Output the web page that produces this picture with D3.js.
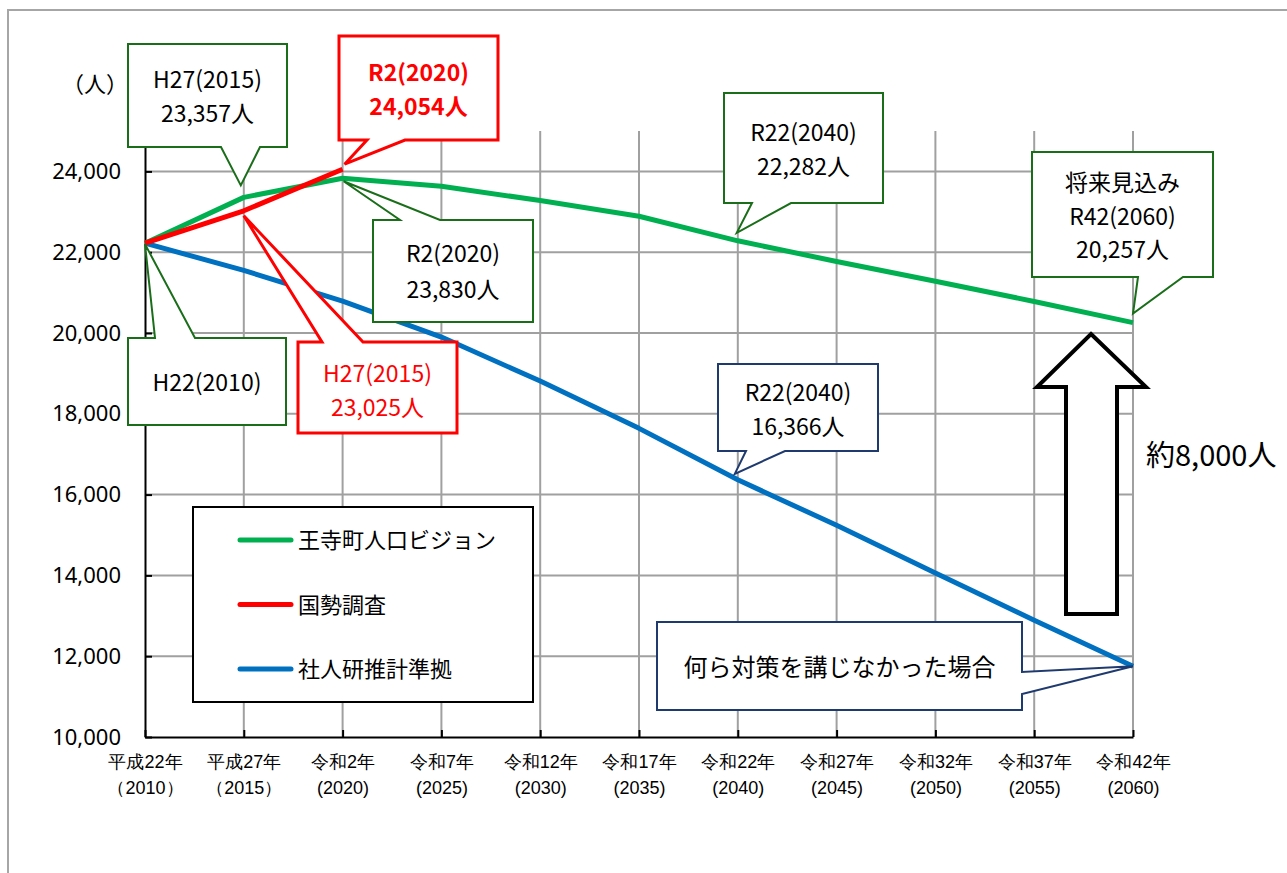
<!DOCTYPE html>
<html><head><meta charset="utf-8">
<script src="https://cdn.jsdelivr.net/npm/d3@7"></script>
<style>
html,body{margin:0;padding:0;background:#fff;}
svg{display:block;font-family:"Noto Sans CJK JP","Noto Sans",sans-serif;}
</style></head>
<body>
<svg id="chart" width="1287" height="873"></svg>
<script>
// ---- data ----
const years = [2010,2015,2020,2025,2030,2035,2040,2045,2050,2055,2060];
const xLabelEra = ["平成22年","平成27年","令和2年","令和7年","令和12年","令和17年","令和22年","令和27年","令和32年","令和37年","令和42年"];
const xLabelYear = ["（2010）","（2015）","(2020)","(2025)","(2030)","(2035)","(2040)","(2045)","(2050)","(2055)","(2060)"];
const yTicks = [10000,12000,14000,16000,18000,20000,22000,24000];
const visionValues = [22224,23357,23830,23630,23280,22890,22282,21770,21280,20780,20257];
const censusYears = [2010,2015,2020];
const censusValues = [22224,23025,24054];
const ipssValues = [22224,21550,20790,19900,18810,17640,16366,15240,14060,12890,11750];
const seriesNames = ["王寺町人口ビジョン","国勢調査","社人研推計準拠"];
const seriesColors = ["#00B050","#FF0000","#0070C0"];

const svg = d3.select("#chart");
// outer frame
svg.append("rect").attr("x",8).attr("y",10).attr("width",1300).attr("height",900)
  .attr("fill","#fff").attr("stroke","#a6a6a6").attr("stroke-width",2);

const x = d3.scaleLinear().domain([2010,2060]).range([145,1133]);
const y = d3.scaleLinear().domain([10000,25000]).range([737,131]);

// grid
const grid = svg.append("g");
grid.selectAll("line.v").data(years.slice(1)).join("line")
  .attr("x1",d=>x(d)).attr("x2",d=>x(d)).attr("y1",y(10000)).attr("y2",y(25000))
  .attr("stroke","#a0a0a0").attr("stroke-width",2);
grid.selectAll("line.h").data(yTicks.slice(1)).join("line")
  .attr("x1",x(2010)).attr("x2",x(2060)).attr("y1",d=>y(d)).attr("y2",d=>y(d))
  .attr("stroke","#a0a0a0").attr("stroke-width",2);

// axes
const yAxis = svg.append("g").attr("transform",`translate(${x(2010)},0)`)
  .call(d3.axisLeft(y).tickValues(yTicks).tickSizeInner(-7).tickSizeOuter(0).tickPadding(24)
    .tickFormat(d3.format(",")));
yAxis.select(".domain").attr("stroke","#000").attr("stroke-width",2);
yAxis.selectAll(".tick line").attr("stroke","#000").attr("stroke-width",2);
yAxis.selectAll(".tick text").attr("font-size",22).attr("fill","#000")
  .attr("font-family","'Noto Sans','Noto Sans CJK JP',sans-serif");

const xAxis = svg.append("g").attr("transform",`translate(0,${y(10000)})`)
  .call(d3.axisBottom(x).tickValues(years).tickSizeInner(-7).tickSizeOuter(0).tickPadding(14)
    .tickFormat(""));
xAxis.select(".domain").attr("stroke","#000").attr("stroke-width",2);
xAxis.selectAll(".tick line").attr("stroke","#000").attr("stroke-width",2);
xAxis.selectAll(".tick text").each(function(d,i){
  const t = d3.select(this).attr("font-size",18).attr("fill","#000").attr("dy",null).attr("y",null);
  t.append("tspan").attr("x",0).attr("y",31).text(xLabelEra[i]);
  t.append("tspan").attr("x",0).attr("y",57).text(xLabelYear[i]);
});

svg.append("text").attr("x",95).attr("y",92).attr("text-anchor","middle")
  .attr("font-size",22).text("（人）");

// series
const line = d3.line().x(d=>x(d[0])).y(d=>y(d[1]));
const visionPts = years.map((yr,i)=>[yr,visionValues[i]]);
const censusPts = censusYears.map((yr,i)=>[yr,censusValues[i]]);
const ipssPts = years.map((yr,i)=>[yr,ipssValues[i]]);
const lines = svg.append("g").attr("fill","none").attr("stroke-width",5).attr("stroke-linejoin","round");
lines.append("path").attr("d",line(ipssPts)).attr("stroke",seriesColors[2]);
lines.append("path").attr("d",line(visionPts)).attr("stroke",seriesColors[0]);
lines.append("path").attr("d",line(censusPts)).attr("stroke",seriesColors[1]);

// callouts
function calloutPath(b, side, base, tip){
  const [x0,y0,x1,y1] = b;
  if(side==="bottom") return `M${x0},${y0}L${x1},${y0}L${x1},${y1}L${base[1]},${y1}L${tip[0]},${tip[1]}L${base[0]},${y1}L${x0},${y1}Z`;
  if(side==="top") return `M${x0},${y0}L${base[0]},${y0}L${tip[0]},${tip[1]}L${base[1]},${y0}L${x1},${y0}L${x1},${y1}L${x0},${y1}Z`;
  return `M${x0},${y0}L${x1},${y0}L${x1},${base[0]}L${tip[0]},${tip[1]}L${x1},${base[1]}L${x1},${y1}L${x0},${y1}Z`;
}
const G="#1a6e1a", R="#FF0000", N="#1F3A6E";
const callouts = [
  {box:[128,44,287,147], side:"bottom", base:[221,260], yr:2015, v:23357, dx:-3, dy:-12, c:G, sw:2, lines:["H27(2015)","23,357人"], tc:"#000", ty:[88,122]},
  {box:[339,36,498,140], side:"bottom", base:[367,405], yr:2020, v:24054, dx:2, dy:-5, c:R, sw:3, lines:["R2(2020)","24,054人"], tc:R, bold:true, ty:[81,115]},
  {box:[373,220,533,322], side:"top", base:[400,440], yr:2020, v:23830, dx:1, dy:3, c:G, sw:2, lines:["R2(2020)","23,830人"], tc:"#000", ty:[262,298]},
  {box:[128,338,286,425], side:"top", base:[155,195], yr:2010, v:22224, dx:0, dy:1, c:G, sw:2, lines:["H22(2010)"], tc:"#000", ty:[391]},
  {box:[298,342,457,433], side:"top", base:[322,363], yr:2015, v:23025, dx:0, dy:5, c:R, sw:3, lines:["H27(2015)","23,025人"], tc:R, ty:[382,416]},
  {box:[724,93,883,203], side:"bottom", base:[752,791], yr:2040, v:22282, dx:-1, dy:-8, c:G, sw:2, lines:["R22(2040)","22,282人"], tc:"#000", ty:[141,175]},
  {box:[1032,152,1213,277], side:"bottom", base:[1138,1183], yr:2060, v:20257, dx:0, dy:-9, c:G, sw:2, lines:["将来見込み","R42(2060)","20,257人"], tc:"#000", ty:[191,225,258]},
  {box:[718,364,878,451], side:"bottom", base:[746,785], yr:2040, v:16366, dx:-3, dy:-6, c:N, sw:2, lines:["R22(2040)","16,366人"], tc:"#000", ty:[401,435]},
  {box:[657,622,1022,710], side:"right", base:[672,694], yr:2060, v:11750, dx:0, dy:0, c:N, sw:2, lines:["何ら対策を講じなかった場合"], tc:"#000", ty:[676], fs:24}
];
const cg = svg.append("g");
callouts.forEach(c=>{
  const tip=[x(c.yr)+c.dx, y(c.v)+c.dy];
  cg.append("path").attr("d",calloutPath(c.box,c.side,c.base,tip))
    .attr("fill","#fff").attr("stroke",c.c).attr("stroke-width",c.sw).attr("stroke-linejoin","miter");
  const cx=(c.box[0]+c.box[2])/2;
  c.lines.forEach((s,i)=>{
    cg.append("text").attr("x",cx).attr("y",c.ty[i]).attr("text-anchor","middle")
      .attr("font-size",c.fs||23).attr("fill",c.tc).attr("font-weight",c.bold?"bold":"normal").text(s);
  });
});

// legend
const lg = svg.append("g");
lg.append("rect").attr("x",193).attr("y",507).attr("width",340).attr("height",195)
  .attr("fill","#fff").attr("stroke","#000").attr("stroke-width",2);
seriesNames.forEach((n,i)=>{
  const yy = 540 + i*64.5;
  lg.append("line").attr("x1",240).attr("x2",291).attr("y1",yy).attr("y2",yy)
    .attr("stroke",seriesColors[i]).attr("stroke-width",5).attr("stroke-linecap","round");
  lg.append("text").attr("x",298).attr("y",yy+8).attr("font-size",22).text(n);
});

// hollow arrow
const arrowPts = [[1091,334],[1146,387],[1117,387],[1117,614],[1066,614],[1066,387],[1037,387]];
svg.append("path").attr("d","M"+arrowPts.map(p=>p.join(",")).join("L")+"Z")
  .attr("fill","#fff").attr("stroke","#000").attr("stroke-width",4).attr("stroke-linejoin","miter");
svg.append("text").attr("x",1146).attr("y",466).attr("font-size",29).text("約8,000人");
</script>
</body></html>
